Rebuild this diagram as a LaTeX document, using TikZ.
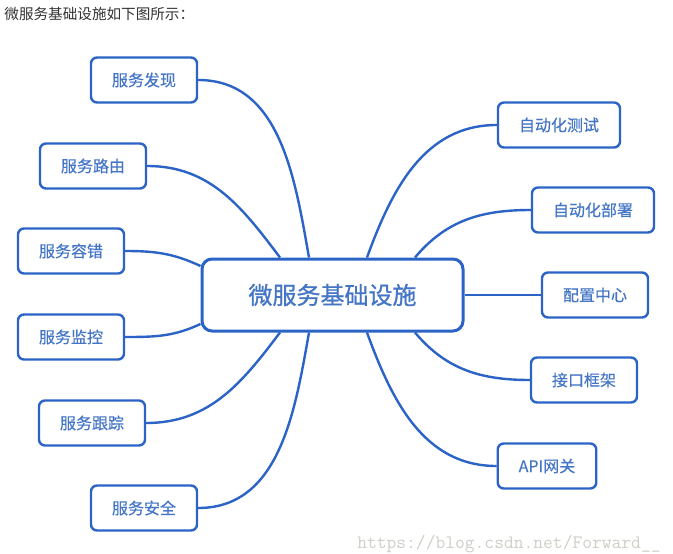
\documentclass[tikz,border=0pt]{standalone}
\usepackage{fontspec}
\newfontfamily\cjk{Noto Sans CJK SC}
\newfontfamily\cjkmid[FakeBold=0.4]{Noto Sans CJK SC}
\newfontfamily\cjkbold[FakeBold=0.9]{Noto Sans CJK SC}
\definecolor{mapblue}{HTML}{2B64C6}
\definecolor{maptext}{HTML}{4576C6}
\definecolor{wmgray}{HTML}{CFCFC8}
\begin{document}
\begin{tikzpicture}[x=1pt, y=1pt, thick,
    main/.style = {draw=mapblue, line width=2.4pt, rounded corners=6pt, fill=white, text=maptext,
      font=\cjkmid\fontsize{16}{16}\selectfont, minimum height=45pt, inner xsep=21pt},
    hub/.style = {main, line width=3pt, rounded corners=10pt, minimum width=261pt,
      minimum height=72pt, font=\cjkbold\fontsize{24}{24}\selectfont},
    link/.style = {draw=mapblue, line width=2.4pt}]
      \path[use as bounding box, fill=white] (0,0) rectangle (673,-554);

      \node[anchor=west, inner sep=0, text=black!80, font=\cjk\fontsize{14.6}{14.6}\selectfont] (title) at (4,-14) {微服务基础设施如下图所示：};

      \node[hub] (0) at (332.5,-295) {微服务基础设施};
      % left side
      \node[main] (1) at (144,-80) {服务发现};
      \node[main] (2) at (93,-166) {服务路由};
      \node[main] (3) at (71,-251) {服务容错};
      \node[main] (4) at (71,-337) {服务监控};
      \node[main] (5) at (92,-423) {服务跟踪};
      \node[main] (6) at (144,-508) {服务安全};
      % right side
      \node[main] (7) at (559,-125) {自动化测试};
      \node[main] (8) at (593,-210) {自动化部署};
      \node[main] (9) at (595,-295) {配置中心};
      \node[main] (10) at (584,-380) {接口框架};
      \node[main] (11) at (547,-466) {API网关};

      \path[link]
      (1.east) edge[out=0, in=100] ([xshift=-23.5pt]0.north)
      (2.east) edge[out=0, in=127] ([xshift=-52.5pt]0.north)
      (3.east) edge[out=0, in=155] ([yshift=29pt]0.west)
      (4.east) edge[out=0, in=205] ([yshift=-29pt]0.west)
      (5.east) edge[out=0, in=233] ([xshift=-52.5pt]0.south)
      (6.east) edge[out=0, in=260] ([xshift=-23.5pt]0.south)
      (7.west) edge[out=180, in=70] ([xshift=34.5pt]0.north)
      (8.west) edge[out=180, in=50] ([xshift=82.5pt]0.north)
      (9.west) edge (0.east)
      (10.west) edge[out=180, in=-50] ([xshift=82.5pt]0.south)
      (11.west) edge[out=180, in=-70] ([xshift=34.5pt]0.south);

      \node[anchor=base east, inner sep=0, text=wmgray, font=\ttfamily\fontsize{19}{19}\selectfont] (wm) at (661,-548) {https://blog.csdn.net/Forward\_\_};
    \end{tikzpicture}
\end{document}
